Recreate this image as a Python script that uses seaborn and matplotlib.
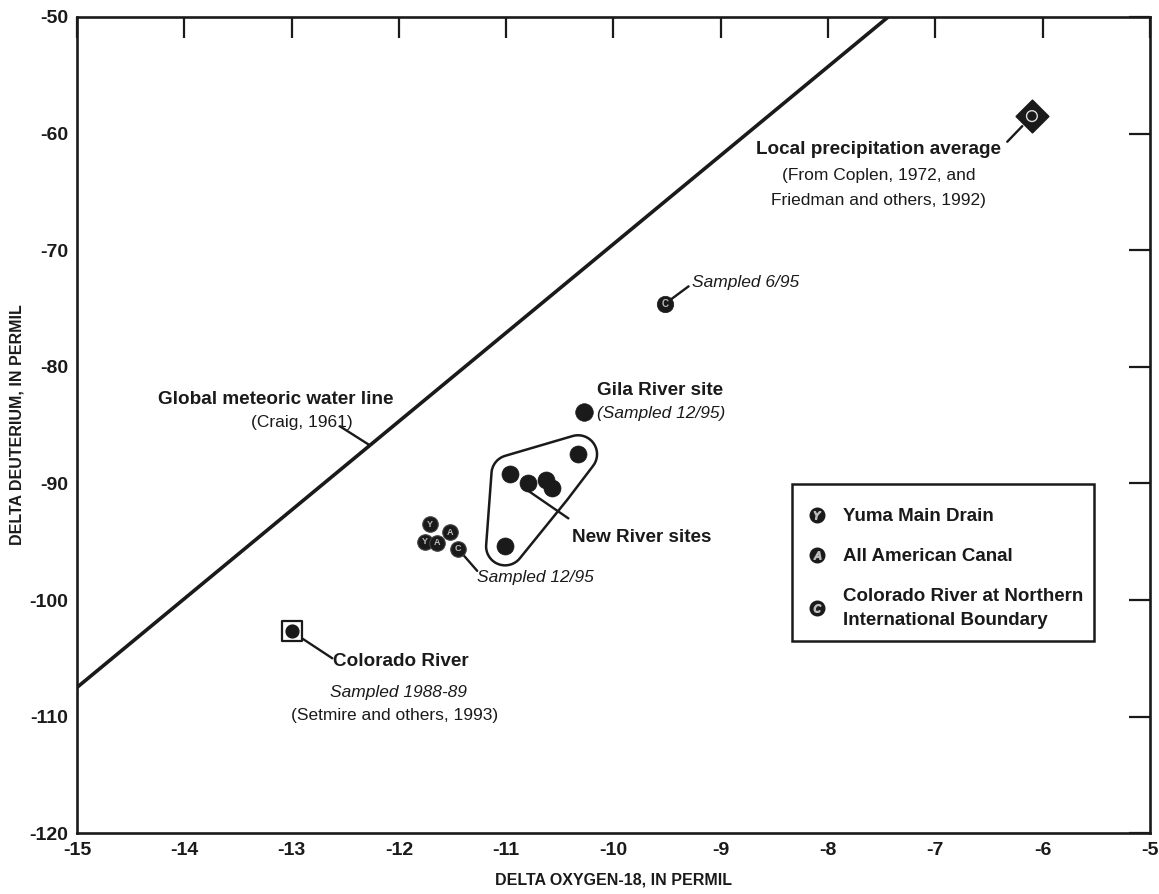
import numpy as np
import pandas as pd
import matplotlib
matplotlib.use("Agg")
import matplotlib.pyplot as plt
import seaborn as sns
from matplotlib.lines import Line2D
from matplotlib.patches import Polygon, Rectangle
from matplotlib.legend_handler import HandlerTuple
from matplotlib.font_manager import FontProperties

# ---------------- data ----------------
gmwl_o18 = [-15.0, -7.44]
gmwl_dd = [-107.5, -50.0]

precip_o18 = [-6.1]
precip_dd = [-58.5]

co_695_o18 = [-9.52]
co_695_dd = [-74.6]

gila_o18 = [-10.27]
gila_dd = [-83.9]

newriver_o18 = [-10.96, -10.80, -10.63, -10.57, -10.33, -11.01]
newriver_dd = [-89.2, -90.0, -89.7, -90.4, -87.5, -95.4]

cluster_o18 = [-11.71, -11.52, -11.76, -11.64, -11.45]
cluster_dd = [-93.5, -94.2, -95.0, -95.1, -95.6]
cluster_site = ["Y", "A", "Y", "A", "C"]

colorado_o18 = [-13.0]
colorado_dd = [-102.7]

x_ticks = [-15, -14, -13, -12, -11, -10, -9, -8, -7, -6, -5]
y_ticks = [-120, -110, -100, -90, -80, -70, -60, -50]

legend_letters = ["Y", "A", "C"]
legend_labels = ["Yuma Main Drain", "All American Canal",
                 "Colorado River at Northern\nInternational Boundary"]

# ---------------- style ----------------
sns.set_theme(style="white")
FAM = ["Liberation Sans", "DejaVu Sans"]
plt.rcParams["font.family"] = FAM
INK = "#1a1a1a"
plt.rcParams["text.color"] = INK

fig = plt.figure(figsize=(11.59, 8.94), dpi=100)
ax = fig.add_axes([0.0664, 0.068, 0.9258, 0.913])
ax.set_xlim(-15, -5)
ax.set_ylim(-120, -50)

for s in ax.spines.values():
    s.set_linewidth(1.9)
    s.set_color(INK)
ax.set_xticks(x_ticks)
ax.set_yticks(y_ticks)
ax.set_xticklabels([str(v) for v in x_ticks])
ax.set_yticklabels([str(v) for v in y_ticks])
ax.tick_params(direction="in", length=15, width=1.6, color=INK,
               top=True, right=True, labelsize=14, pad=6, labelcolor=INK)
for lab in ax.get_xticklabels() + ax.get_yticklabels():
    lab.set_fontweight("bold")
ax.set_xlabel("DELTA OXYGEN-18, IN PERMIL", fontsize=11.5, fontweight="bold",
              labelpad=10, color=INK)
ax.set_ylabel("DELTA DEUTERIUM, IN PERMIL", fontsize=11.5, fontweight="bold",
              color=INK)
ax.yaxis.set_label_coords(-0.049, 0.5)

# global meteoric water line
sns.lineplot(x=gmwl_o18, y=gmwl_dd, color=INK, lw=2.6, ax=ax, zorder=2)

# New River points
sns.scatterplot(x=newriver_o18, y=newriver_dd, color=INK, s=150,
                edgecolor=INK, linewidth=0.5, ax=ax, zorder=5)
# Gila River
sns.scatterplot(x=gila_o18, y=gila_dd, color=INK, s=160,
                edgecolor=INK, linewidth=0.5, ax=ax, zorder=5)
# Colorado 6/95 lettered
sns.scatterplot(x=co_695_o18, y=co_695_dd, color=INK, s=140,
                edgecolor=INK, linewidth=0.5, ax=ax, zorder=5)
ax.text(co_695_o18[0], co_695_dd[0], "C", color="#bbbbbb", fontsize=7,
        fontweight="bold", ha="center", va="center", zorder=6)

# Y/A/C cluster
cl = pd.DataFrame({"o18": cluster_o18, "dd": cluster_dd, "site": cluster_site})
sns.scatterplot(data=cl, x="o18", y="dd", color=INK, s=125, edgecolor="#444444",
                linewidth=0.8, ax=ax, zorder=5)
for xo, yd, t in zip(cluster_o18, cluster_dd, cluster_site):
    ax.text(xo, yd, t, color="#bbbbbb", fontsize=6.5, fontweight="bold",
            ha="center", va="center", zorder=6)

# local precipitation diamond
sns.scatterplot(x=precip_o18, y=precip_dd, marker="D", color=INK, s=270,
                edgecolor=INK, ax=ax, zorder=5)
ax.scatter(precip_o18, precip_dd, marker="o", s=60, facecolors="none",
           edgecolors="#dddddd", linewidths=1.0, zorder=6)

# Colorado River 1988-89 square
ax.scatter(colorado_o18, colorado_dd, marker="s", s=210, facecolors="white",
           edgecolors=INK, linewidths=1.6, zorder=5)
ax.scatter(colorado_o18, colorado_dd, marker="o", s=85, color=INK, zorder=6)

# loop around New River sites (rounded hull of the points in display space)
def rounded_hull(xs, ys, r_px):
    pts = ax.transData.transform(np.column_stack([xs, ys]))
    ang = np.linspace(0, 2 * np.pi, 48, endpoint=False)
    cloud = np.vstack([p + r_px * np.column_stack([np.cos(ang), np.sin(ang)]) for p in pts])
    cloud = sorted(map(tuple, cloud))
    def cross(o, a, b):
        return (a[0]-o[0])*(b[1]-o[1]) - (a[1]-o[1])*(b[0]-o[0])
    lower, upper = [], []
    for p in cloud:
        while len(lower) >= 2 and cross(lower[-2], lower[-1], p) <= 0:
            lower.pop()
        lower.append(p)
    for p in reversed(cloud):
        while len(upper) >= 2 and cross(upper[-2], upper[-1], p) <= 0:
            upper.pop()
        upper.append(p)
    hull = np.array(lower[:-1] + upper[:-1])
    return ax.transData.inverted().transform(hull)

hull = rounded_hull(newriver_o18, newriver_dd, 19)
ax.add_patch(Polygon(hull, closed=True, fill=False, edgecolor=INK, lw=1.8, zorder=4))

# ---------------- annotations ----------------
def leader(p_text, p_mark, shrink=8):
    ax.annotate("", xy=p_mark, xytext=p_text,
                arrowprops=dict(arrowstyle="-", lw=1.7, color=INK,
                                shrinkA=0, shrinkB=shrink), zorder=3)

B = dict(fontweight="bold", color=INK)
BS = 13.6   # bold label size
RS = 12.5   # regular / italic size

# local precipitation
ax.text(-7.53, -61.4, "Local precipitation average", fontsize=BS, ha="center", va="center", **B)
ax.text(-7.53, -63.6, "(From Coplen, 1972, and", fontsize=RS, ha="center", va="center", color=INK)
ax.text(-7.53, -65.75, "Friedman and others, 1992)", fontsize=RS, ha="center", va="center", color=INK)
leader((-6.33, -60.7), (precip_o18[0], precip_dd[0]), shrink=10)

# sampled 6/95
ax.text(-9.27, -72.8, "Sampled 6/95", fontsize=RS, style="italic", ha="left", va="center", color=INK)
leader((-9.30, -73.1), (co_695_o18[0], co_695_dd[0]), shrink=6)

# GMWL label
gx = -12.27
gy = float(np.interp(gx, gmwl_o18, gmwl_dd))
ax.text(-13.15, -82.8, "Global meteoric water line", fontsize=BS, ha="center", va="center", **B)
ax.text(-12.9, -84.8, "(Craig, 1961)", fontsize=RS, ha="center", va="center", color=INK)
leader((-12.55, -85.1), (gx, gy), shrink=0)

# Gila
ax.text(-10.15, -82.0, "Gila River site", fontsize=BS, ha="left", va="center", **B)
ax.text(-10.15, -84.0, "(Sampled 12/95)", fontsize=RS, style="italic", ha="left", va="center", color=INK)

# New River sites
ax.text(-10.39, -94.6, "New River sites", fontsize=BS, ha="left", va="center", **B)
ax.plot([-10.80, -10.42], [-90.6, -93.0], color=INK, lw=1.7, zorder=3)

# cluster sampled 12/95
ax.text(-11.27, -98.1, "Sampled 12/95", fontsize=RS, style="italic", ha="left", va="center", color=INK)
leader((-11.27, -97.5), (cluster_o18[4], cluster_dd[4]), shrink=6)

# Colorado River 1988-89
ax.text(-12.61, -105.3, "Colorado River", fontsize=BS, ha="left", va="center", **B)
ax.text(-12.0, -107.9, "Sampled 1988-89", fontsize=RS, style="italic", ha="center", va="center", color=INK)
ax.text(-12.04, -109.9, "(Setmire and others, 1993)", fontsize=RS, ha="center", va="center", color=INK)
leader((-12.62, -105.0), (colorado_o18[0], colorado_dd[0]), shrink=8)

# ---------------- legend ----------------
handles = []
for t in legend_letters:
    h1 = Line2D([], [], marker="o", ls="", color=INK, markersize=10.5)
    h2 = Line2D([], [], marker=f"${t}$", ls="", color="#bbbbbb", markersize=5.5)
    handles.append((h1, h2))
leg = ax.legend(handles, legend_labels, handler_map={tuple: HandlerTuple(ndivide=1)},
                loc="upper left", bbox_to_anchor=(0.681, 0.398), borderaxespad=0,
                frameon=False, handlelength=1.0, handletextpad=0.9, borderpad=0,
                labelspacing=1.2,
                prop=FontProperties(family=FAM, weight="bold", size=13.5))
for txt in leg.get_texts():
    txt.set_color(INK)
    txt.set_linespacing(1.55)

# frame around the legend content, with the reference's uneven padding
fig.canvas.draw()
bb = leg.get_window_extent()
pad_l, pad_r, pad_t, pad_b = 16, 10, 24, 12
frame = Rectangle((bb.x0 - pad_l, bb.y0 - pad_b),
                  bb.width + pad_l + pad_r, bb.height + pad_t + pad_b,
                  transform=None, fill=True, facecolor="white",
                  edgecolor=INK, lw=1.8, zorder=7)
fig.add_artist(frame)
leg.set_zorder(8)
fig.add_artist(leg)

fig.savefig("out.png", dpi=100)
